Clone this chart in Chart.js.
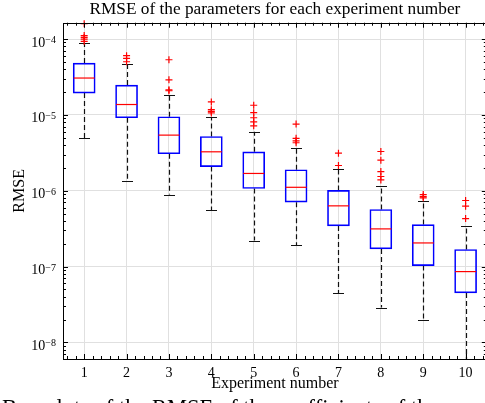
<!DOCTYPE html>
<html>
<head>
<meta charset="utf-8">
<script src="https://cdn.jsdelivr.net/npm/chart.js@4.4.1/dist/chart.umd.min.js"></script>
<style>
  html, body { margin: 0; padding: 0; background: #fff; overflow: hidden; width: 485px; height: 403px; }
  #wrap { position: relative; width: 492px; height: 403px; }
  #caption { position: absolute; left: 2px; top: 395px; font: 22.5px "Liberation Serif", serif; line-height: 26px; white-space: nowrap; color: #000; }
</style>
</head>
<body>
<div id="wrap"><canvas id="chart"></canvas></div>
<div id="caption">Box plots of the RMSE of the coefficients of the</div>
<script>
const FONT = "'Liberation Serif', 'DejaVu Serif', serif";

// values
const experiments = [1, 2, 3, 4, 5, 6, 7, 8, 9, 10];
const q1 = [1.94e-5, 9.16e-6, 3.07e-6, 2.08e-6, 1.07e-6, 7.07e-7, 3.44e-7, 1.71e-7, 1.03e-7, 4.50e-8];
const medians = [3.06e-5, 1.37e-5, 5.41e-6, 3.26e-6, 1.69e-6, 1.11e-6, 6.32e-7, 3.14e-7, 2.05e-7, 8.59e-8];
const q3 = [4.82e-5, 2.47e-5, 9.44e-6, 5.19e-6, 3.26e-6, 1.89e-6, 1.01e-6, 5.65e-7, 3.58e-7, 1.68e-7];
const whiskerLow = [4.94e-6, 1.34e-6, 8.9e-7, 5.55e-7, 2.20e-7, 1.91e-7, 4.50e-8, 2.88e-8, 2.0e-8, 4.0e-9];
const whiskerHigh = [8.93e-5, 4.72e-5, 1.82e-5, 9.25e-6, 5.98e-6, 3.68e-6, 1.96e-6, 1.15e-6, 7.36e-7, 3.47e-7];
const outliers = [
  [1.59e-4, 1.11e-4, 1.05e-4, 1.0e-4, 9.3e-5],
  [6.03e-5, 5.55e-5, 5.02e-5],
  [5.33e-5, 2.90e-5, 2.14e-5, 2.08e-5],
  [1.48e-5, 1.17e-5, 1.11e-5, 1.06e-5],
  [1.34e-5, 1.07e-5, 9.16e-6, 8.11e-6, 7.18e-6],
  [7.57e-6, 4.91e-6, 4.55e-6, 4.29e-6],
  [3.13e-6, 2.15e-6],
  [3.29e-6, 2.53e-6, 1.79e-6, 1.54e-6, 1.39e-6],
  [8.91e-7, 8.38e-7, 8.06e-7],
  [7.43e-7, 6.26e-7, 4.30e-7]
];
const yTicks = [1e-8, 1e-7, 1e-6, 1e-5, 1e-4];
const yExponents = ["\u22128", "\u22127", "\u22126", "\u22125", "\u22124"];

function seg(ctx, x1, y1, x2, y2) {
  ctx.beginPath();
  ctx.moveTo(x1, y1);
  ctx.lineTo(x2, y2);
  ctx.stroke();
}

const boxDecor = {
  id: "boxDecor",
  beforeDatasetsDraw(chart) {
    const { ctx, chartArea: a, scales: { x, y } } = chart;
    ctx.save();
    ctx.beginPath();
    ctx.rect(a.left, a.top, a.right - a.left, a.bottom - a.top);
    ctx.clip();
    ctx.strokeStyle = "#111";
    experiments.forEach((e, i) => {
      const px = Math.round(x.getPixelForValue(e)) + 0.5;
      ctx.lineWidth = 1.2;
      ctx.setLineDash([5, 3]);
      seg(ctx, px, y.getPixelForValue(q3[i]), px, y.getPixelForValue(whiskerHigh[i]));
      seg(ctx, px, y.getPixelForValue(q1[i]), px, y.getPixelForValue(whiskerLow[i]));
      ctx.setLineDash([]);
      ctx.lineWidth = 1;
      const hi = Math.round(y.getPixelForValue(whiskerHigh[i])) + 0.5;
      const lo = Math.round(y.getPixelForValue(whiskerLow[i])) + 0.5;
      seg(ctx, px - 5.5, hi, px + 5.5, hi);
      seg(ctx, px - 5.5, lo, px + 5.5, lo);
    });
    ctx.restore();
  },
  afterDatasetsDraw(chart) {
    const { ctx, chartArea: a, scales: { x, y } } = chart;
    ctx.save();
    // medians
    ctx.strokeStyle = "#ff0000";
    ctx.lineWidth = 1.2;
    experiments.forEach((e, i) => {
      const px = x.getPixelForValue(e);
      const py = y.getPixelForValue(medians[i]);
      seg(ctx, px - 10.5, py, px + 10.5, py);
    });
    // frame
    ctx.strokeStyle = "#000";
    ctx.lineWidth = 1;
    ctx.strokeRect(Math.round(a.left) + 0.5, Math.round(a.top) + 0.5, a.right - a.left, Math.round(a.bottom - a.top));
    // inward ticks on x
    for (let k = 3; k <= 52; k++) {
      const v = k / 5;
      const px = Math.round(x.getPixelForValue(v)) + 0.5;
      const len = k % 5 === 0 ? 5 : 3;
      seg(ctx, px, a.bottom, px, a.bottom - len);
      seg(ctx, px, a.top, px, a.top + len);
    }
    // inward ticks on y (log)
    for (let p = -9; p <= -4; p++) {
      for (let m = 1; m <= 9; m++) {
        const v = m * Math.pow(10, p);
        if (v < y.min || v > y.max) continue;
        const py = Math.round(y.getPixelForValue(v)) + 0.5;
        const len = m === 1 ? 5 : 3;
        seg(ctx, a.left, py, a.left + len, py);
        seg(ctx, a.right, py, a.right - len, py);
      }
    }
    // y tick labels 10^n
    ctx.fillStyle = "#000";
    ctx.textAlign = "right";
    ctx.textBaseline = "alphabetic";
    yTicks.forEach((v, i) => {
      const py = y.getPixelForValue(v);
      ctx.font = "10px " + FONT;
      const ew = ctx.measureText(yExponents[i]).width;
      ctx.fillText(yExponents[i], 56, py + 4);
      ctx.font = "14px " + FONT;
      ctx.fillText("10", 56 - ew, py + 7.5);
    });
    ctx.restore();
  }
};

const boxData = experiments.map((e, i) => ({ x: e, y: [q1[i], q3[i]] }));
const outlierData = outliers.flatMap((arr, i) => arr.map(v => ({ x: experiments[i], y: v })));

new Chart(document.getElementById("chart"), {
  type: "bar",
  data: {
    datasets: [
      {
        label: "Interquartile range",
        data: boxData,
        backgroundColor: "rgba(0,0,0,0)",
        borderColor: "#0000ff",
        borderWidth: 1,
        borderSkipped: false,
        barThickness: 22,
        order: 2
      },
      {
        type: "scatter",
        label: "Outliers",
        data: outlierData,
        pointStyle: "cross",
        pointRadius: 3.5,
        borderColor: "#ff0000",
        borderWidth: 1.2,
        clip: false,
        order: 1
      }
    ]
  },
  options: {
    responsive: true,
    maintainAspectRatio: false,
    animation: false,
    layout: { padding: { left: 0, right: 3.7, top: 0, bottom: 0 } },
    plugins: {
      legend: { display: false },
      tooltip: { enabled: false },
      title: {
        display: true,
        fullSize: false,
        text: "RMSE of the parameters for each experiment number",
        color: "#000",
        font: { family: FONT, size: 17.3, weight: "normal", lineHeight: 1.1 },
        padding: { top: 0, bottom: 3.7 }
      }
    },
    scales: {
      x: {
        type: "linear",
        offset: false,
        min: 0.5,
        max: 10.5,
        afterBuildTicks: s => { s.ticks = experiments.map(v => ({ value: v })); },
        afterFit: s => { s.height = 44; },
        grid: { color: "#e0e0e0", lineWidth: 1, drawTicks: false, offset: false },
        border: { display: false },
        ticks: { color: "#000", font: { family: FONT, size: 14 }, padding: 6, maxRotation: 0, autoSkip: false },
        title: {
          display: true,
          text: "Experiment number",
          color: "#000",
          font: { family: FONT, size: 16 },
          padding: { top: 0, bottom: 10 }
        }
      },
      y: {
        type: "logarithmic",
        min: 6.05e-9,
        max: 1.64e-4,
        afterBuildTicks: s => { s.ticks = yTicks.map(v => ({ value: v })); },
        afterFit: s => { s.width = 63; },
        grid: { color: "#e0e0e0", lineWidth: 1, drawTicks: false },
        border: { display: false },
        ticks: { display: false },
        title: {
          display: true,
          text: "RMSE",
          color: "#000",
          font: { family: FONT, size: 16 },
          padding: { top: 10, bottom: 0 }
        }
      }
    }
  },
  plugins: [boxDecor]
});
</script>
</body>
</html>
